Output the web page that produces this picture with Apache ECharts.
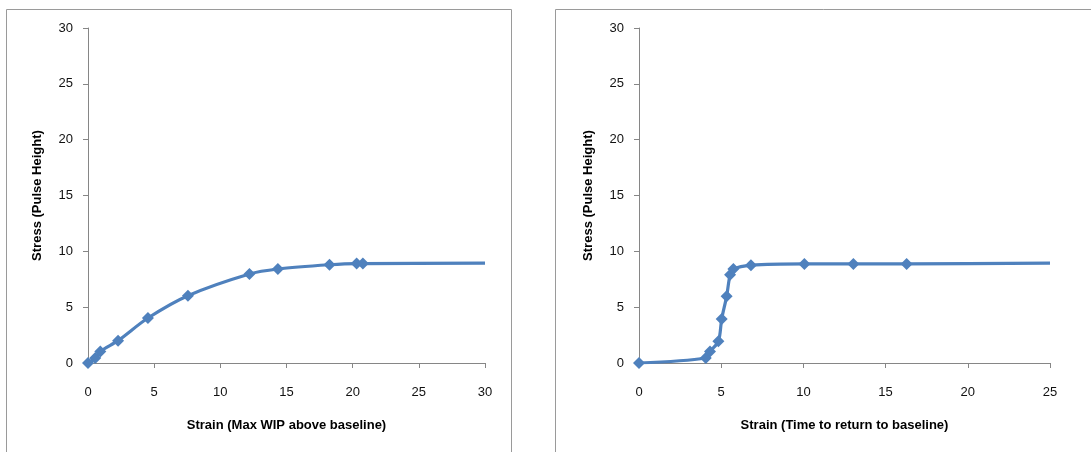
<!DOCTYPE html>
<html>
<head>
<meta charset="utf-8">
<script src="https://cdn.jsdelivr.net/npm/echarts@6/dist/echarts.min.js"></script>
<style>html,body{margin:0;padding:0;background:#fff;}#c{width:1091px;height:452px;}</style>
</head>
<body>
<div id="c"></div>
<script>
// Left chart: Strain (Max WIP above baseline) vs Stress
var leftX = [0, 0.55, 0.93, 2.27, 4.53, 7.55, 12.2, 14.35, 18.25, 20.3, 20.77, 30];
var leftY = [0, 0.45, 1.04, 2.0, 4.03, 6.03, 7.97, 8.42, 8.8, 8.9, 8.9, 8.95];
// Right chart: Strain (Time to return to baseline) vs Stress
var rightX = [0, 4.06, 4.32, 4.83, 5.03, 5.33, 5.54, 5.74, 6.81, 10.06, 13.04, 16.28, 25];
var rightY = [0, 0.45, 1.04, 1.94, 3.94, 5.97, 7.9, 8.42, 8.75, 8.87, 8.87, 8.87, 8.95];
var yTicks = [0, 5, 10, 15, 20, 25, 30];
var leftXTitle = 'Strain (Max WIP above baseline)';
var rightXTitle = 'Strain (Time to return to baseline)';
var yTitle = 'Stress (Pulse Height)';

var FONT = 'Liberation Sans';
var BLUE = '#4F81BD';

function pts(xs, ys) {
  return xs.map(function (x, i) {
    var d = { value: [x, ys[i]] };
    if (i === xs.length - 1) d.symbol = 'none';
    return d;
  });
}
function xAxis(idx, max, name) {
  return {
    type: 'value', gridIndex: idx, min: 0, max: max, interval: 5,
    name: name, nameLocation: 'middle', nameGap: 56,
    nameTextStyle: { fontFamily: FONT, fontSize: 13, fontWeight: 'bold', color: '#000' },
    axisLine: { lineStyle: { color: '#868686', width: 1 } },
    axisTick: { show: true, length: 5, lineStyle: { color: '#868686' } },
    axisLabel: { margin: 23, fontFamily: FONT, fontSize: 13, color: '#111' },
    splitLine: { show: false }
  };
}
function yAxis(idx) {
  return {
    type: 'value', gridIndex: idx, min: 0, max: 30, interval: 5,
    name: yTitle, nameLocation: 'middle', nameGap: 44, nameRotate: 90,
    nameTextStyle: { fontFamily: FONT, fontSize: 13, fontWeight: 'bold', color: '#000' },
    axisLine: { show: true, lineStyle: { color: '#868686', width: 1 } },
    axisTick: { show: true, length: 5, lineStyle: { color: '#868686' } },
    axisLabel: { margin: 15, fontFamily: FONT, fontSize: 13, color: '#111',
      formatter: function (v) { return yTicks.indexOf(v) >= 0 ? String(v) : ''; } },
    splitLine: { show: false }
  };
}
function series(idx, xs, ys) {
  return {
    type: 'line', xAxisIndex: idx, yAxisIndex: idx,
    data: pts(xs, ys), smooth: 0.3,
    symbol: 'diamond', symbolSize: 12, showSymbol: true,
    lineStyle: { color: BLUE, width: 3.2 },
    itemStyle: { color: BLUE },
    animation: false
  };
}
var chart = echarts.init(document.getElementById('c'));
chart.setOption({
  backgroundColor: '#fff',
  animation: false,
  graphic: [
    { type: 'rect', shape: { x: 6.5, y: 9.5, width: 505, height: 470 }, style: { fill: 'none', stroke: '#9a9a9a', lineWidth: 1 } },
    { type: 'rect', shape: { x: 555.5, y: 9.5, width: 560, height: 470 }, style: { fill: 'none', stroke: '#9a9a9a', lineWidth: 1 } }
  ],
  grid: [
    { left: 88, right: 1091 - 485, top: 28, bottom: 452 - 363 },
    { left: 639, right: 1091 - 1050, top: 28, bottom: 452 - 363 }
  ],
  xAxis: [xAxis(0, 30, leftXTitle), xAxis(1, 25, rightXTitle)],
  yAxis: [yAxis(0), yAxis(1)],
  series: [series(0, leftX, leftY), series(1, rightX, rightY)]
});
</script>
</body>
</html>
